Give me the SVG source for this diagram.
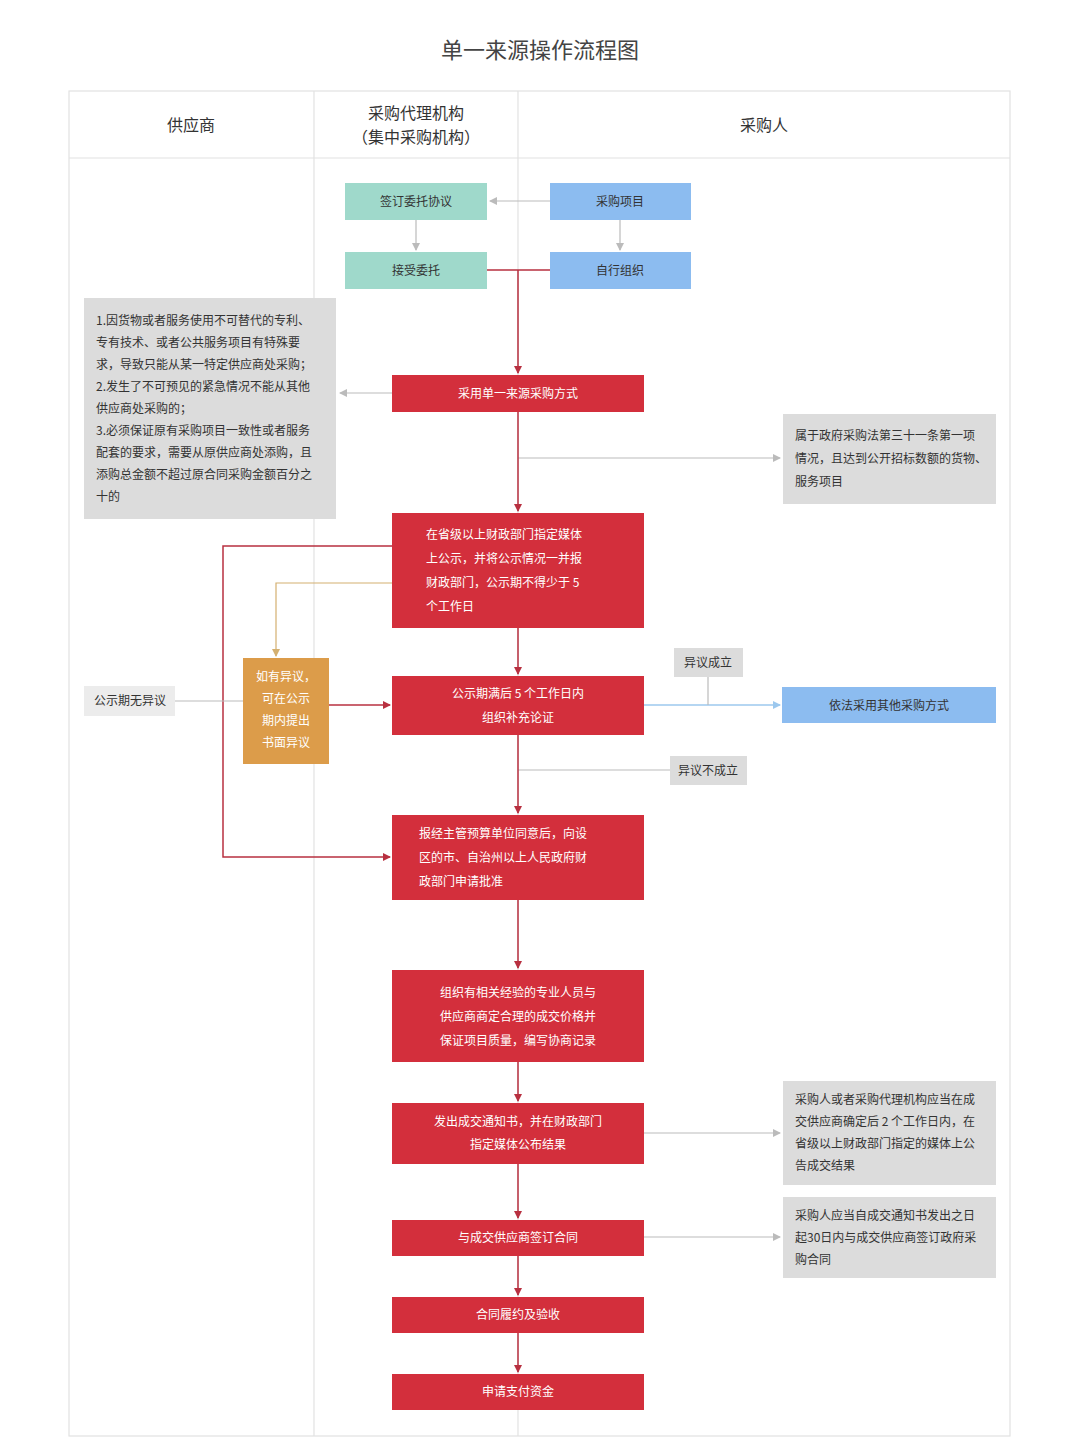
<svg xmlns="http://www.w3.org/2000/svg" width="1080" height="1440" viewBox="0 0 1080 1440">
<style>
text{font-family:"Noto Sans CJK SC","Liberation Sans",sans-serif;font-size:12px}
.h{font-size:16px;fill:#333}
.r rect{fill:#d32f3c}
.r text{fill:#fff}
.g rect{fill:#dcdcdc}
.g text{fill:#333}
.t rect{fill:#9fd9cb}
.b rect{fill:#8cbcf0}
.o rect{fill:#dc9c4a}
.o text{fill:#fff}
.dark{fill:#333}
.lr{stroke:#b83040;stroke-width:1.5;fill:none}
.lg{stroke:#bbb;stroke-width:1.2;fill:none}
.ly{stroke:#d4b070;stroke-width:1.2;fill:none}
.lb{stroke:#9cc8ee;stroke-width:1.5;fill:none}
</style>
<defs>
<marker id="ar" markerWidth="8" markerHeight="8" refX="7" refY="4" orient="auto" markerUnits="userSpaceOnUse"><path d="M0,0L8,4L0,8z" fill="#b83040"/></marker>
<marker id="ag" markerWidth="8" markerHeight="8" refX="7" refY="4" orient="auto" markerUnits="userSpaceOnUse"><path d="M0,0L8,4L0,8z" fill="#bbb"/></marker>
<marker id="ay" markerWidth="8" markerHeight="8" refX="7" refY="4" orient="auto" markerUnits="userSpaceOnUse"><path d="M0,0L8,4L0,8z" fill="#d4b070"/></marker>
<marker id="ab" markerWidth="8" markerHeight="8" refX="7" refY="4" orient="auto" markerUnits="userSpaceOnUse"><path d="M0,0L8,4L0,8z" fill="#9cc8ee"/></marker>
</defs>
<rect width="1080" height="1440" fill="#fff"/>
<text x="540" y="58" text-anchor="middle" style="font-size:22px" fill="#444">单一来源操作流程图</text>
<g id="lanes" fill="none" stroke="#e2e2e2" stroke-width="1.2">
<rect x="69" y="91" width="941" height="1345"/>
<line x1="69" y1="158" x2="1010" y2="158"/>
<line x1="314" y1="91" x2="314" y2="1436"/>
<line x1="518" y1="91" x2="518" y2="1436"/>
</g>
<text class="h" x="191" y="131" text-anchor="middle">供应商</text>
<text class="h" x="416" y="119" text-anchor="middle">采购代理机构</text>
<text class="h" x="416" y="143" text-anchor="middle">（集中采购机构）</text>
<text class="h" x="764" y="131" text-anchor="middle">采购人</text>

<g id="connectors">
<path class="lg" d="M550,201H490" marker-end="url(#ag)"/>
<path class="lg" d="M416,220V250" marker-end="url(#ag)"/>
<path class="lg" d="M620,220V250" marker-end="url(#ag)"/>
<path class="lr" d="M487,270H550M518,270V373" marker-end="url(#ar)"/>
<path class="lg" d="M392,393H340" marker-end="url(#ag)"/>
<path class="lg" d="M518,458H780" marker-end="url(#ag)"/>
<path class="lr" d="M518,411V511" marker-end="url(#ar)"/>
<path class="ly" d="M392,583H276V656" marker-end="url(#ay)"/>
<path class="lr" d="M392,546H223V857H390" marker-end="url(#ar)"/>
<path class="lr" d="M518,628V674" marker-end="url(#ar)"/>
<path class="lr" d="M329,705H390" marker-end="url(#ar)"/>
<path class="lg" d="M175,701H243"/>
<path class="lb" d="M644,705H780" marker-end="url(#ab)"/>
<path class="lg" d="M708,677V705"/>
<path class="lg" d="M518,770H670"/>
<path class="lr" d="M518,735V813" marker-end="url(#ar)"/>
<path class="lr" d="M518,900V968" marker-end="url(#ar)"/>
<path class="lr" d="M518,1062V1101" marker-end="url(#ar)"/>
<path class="lg" d="M644,1133H780" marker-end="url(#ag)"/>
<path class="lr" d="M518,1164V1218" marker-end="url(#ar)"/>
<path class="lg" d="M644,1237H780" marker-end="url(#ag)"/>
<path class="lr" d="M518,1256V1295" marker-end="url(#ar)"/>
<path class="lr" d="M518,1333V1372" marker-end="url(#ar)"/>
</g>

<g id="n1" class="t"><rect x="345" y="183" width="142" height="37"/><text class="dark" x="416" y="206" text-anchor="middle">签订委托协议</text></g>
<g id="n2" class="b"><rect x="550" y="183" width="141" height="37"/><text class="dark" x="620" y="206" text-anchor="middle">采购项目</text></g>
<g id="n3" class="t"><rect x="345" y="252" width="142" height="37"/><text class="dark" x="416" y="275" text-anchor="middle">接受委托</text></g>
<g id="n4" class="b"><rect x="550" y="252" width="141" height="37"/><text class="dark" x="620" y="275" text-anchor="middle">自行组织</text></g>
<g id="n5" class="r"><rect x="392" y="375" width="252" height="37"/><text x="518" y="398" text-anchor="middle">采用单一来源采购方式</text></g>
<g id="n6" class="g"><rect x="84" y="298" width="252" height="221"/>
<text x="96" y="325">1.因货物或者服务使用不可替代的专利、</text>
<text x="96" y="347">专有技术、或者公共服务项目有特殊要</text>
<text x="96" y="369">求，导致只能从某一特定供应商处采购；</text>
<text x="96" y="391">2.发生了不可预见的紧急情况不能从其他</text>
<text x="96" y="413">供应商处采购的；</text>
<text x="96" y="435">3.必须保证原有采购项目一致性或者服务</text>
<text x="96" y="457">配套的要求，需要从原供应商处添购，且</text>
<text x="96" y="479">添购总金额不超过原合同采购金额百分之</text>
<text x="96" y="501">十的</text></g>
<g id="n7" class="g"><rect x="783" y="414" width="213" height="90"/>
<text x="795" y="440">属于政府采购法第三十一条第一项</text>
<text x="795" y="463">情况，且达到公开招标数额的货物、</text>
<text x="795" y="486">服务项目</text></g>
<g id="n8" class="r"><rect x="392" y="513" width="252" height="115"/>
<text x="426" y="539">在省级以上财政部门指定媒体</text>
<text x="426" y="563">上公示，并将公示情况一并报</text>
<text x="426" y="587">财政部门，公示期不得少于 5</text>
<text x="426" y="611">个工作日</text></g>
<g id="n9" class="o"><rect x="243" y="658" width="86" height="106"/>
<text x="286" y="681" text-anchor="middle">如有异议，</text>
<text x="286" y="703" text-anchor="middle">可在公示</text>
<text x="286" y="725" text-anchor="middle">期内提出</text>
<text x="286" y="747" text-anchor="middle">书面异议</text></g>
<g id="n10" class="g"><rect x="84" y="686" width="91" height="30" fill="#e8e8e8" style="fill:#ececec"/><text x="130" y="705" text-anchor="middle">公示期无异议</text></g>
<g id="n11" class="r"><rect x="392" y="676" width="252" height="59"/>
<text x="518" y="698" text-anchor="middle">公示期满后 5 个工作日内</text>
<text x="518" y="722" text-anchor="middle">组织补充论证</text></g>
<g id="n12" class="g"><rect x="674" y="648" width="69" height="29"/><text x="708" y="667" text-anchor="middle">异议成立</text></g>
<g id="n13" class="b"><rect x="782" y="687" width="214" height="36"/><text class="dark" x="889" y="710" text-anchor="middle">依法采用其他采购方式</text></g>
<g id="n14" class="g"><rect x="670" y="756" width="77" height="29"/><text x="708" y="775" text-anchor="middle">异议不成立</text></g>
<g id="n15" class="r"><rect x="392" y="815" width="252" height="85"/>
<text x="419" y="838">报经主管预算单位同意后，向设</text>
<text x="419" y="862">区的市、自治州以上人民政府财</text>
<text x="419" y="886">政部门申请批准</text></g>
<g id="n16" class="r"><rect x="392" y="970" width="252" height="92"/>
<text x="518" y="997" text-anchor="middle">组织有相关经验的专业人员与</text>
<text x="518" y="1021" text-anchor="middle">供应商商定合理的成交价格并</text>
<text x="518" y="1045" text-anchor="middle">保证项目质量，编写协商记录</text></g>
<g id="n17" class="r"><rect x="392" y="1103" width="252" height="61"/>
<text x="518" y="1126" text-anchor="middle">发出成交通知书，并在财政部门</text>
<text x="518" y="1149" text-anchor="middle">指定媒体公布结果</text></g>
<g id="n18" class="g"><rect x="783" y="1081" width="213" height="104"/>
<text x="795" y="1104">采购人或者采购代理机构应当在成</text>
<text x="795" y="1126">交供应商确定后 2 个工作日内，在</text>
<text x="795" y="1148">省级以上财政部门指定的媒体上公</text>
<text x="795" y="1170">告成交结果</text></g>
<g id="n19" class="r"><rect x="392" y="1220" width="252" height="36"/><text x="518" y="1242" text-anchor="middle">与成交供应商签订合同</text></g>
<g id="n20" class="g"><rect x="783" y="1197" width="213" height="81"/>
<text x="795" y="1220">采购人应当自成交通知书发出之日</text>
<text x="795" y="1242">起30日内与成交供应商签订政府采</text>
<text x="795" y="1264">购合同</text></g>
<g id="n21" class="r"><rect x="392" y="1297" width="252" height="36"/><text x="518" y="1319" text-anchor="middle">合同履约及验收</text></g>
<g id="n22" class="r"><rect x="392" y="1374" width="252" height="36"/><text x="518" y="1396" text-anchor="middle">申请支付资金</text></g>
</svg>
